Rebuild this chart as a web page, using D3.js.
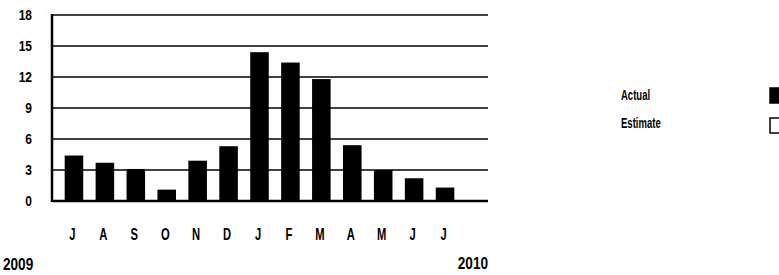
<!DOCTYPE html>
<html>
<meta charset="utf-8">
<head>
  <script src="https://d3js.org/d3.v7.js"></script>
  <style>
    body { margin: 0; background: #fff; }
    text { font-family: "Liberation Sans", Arial, sans-serif; font-weight: bold; fill: #000; }
  </style>
</head>
<body>
  <svg id="graph" width="779" height="275"></svg>
  <script>
    // data
    var months = ["J", "A", "S", "O", "N", "D", "J", "F", "M", "A", "M", "J", "J"]
    var actual = [4.4, 3.7, 3.1, 1.1, 3.9, 5.3, 14.4, 13.4, 11.8, 5.4, 3.0, 2.2, 1.3]
    var yTicks = [0, 3, 6, 9, 12, 15, 18]
    var years = ["2009", "2010"]
    var legendItems = ["Actual", "Estimate"]

    var svg = d3.select("svg#graph")
    var plotLeft = 52, plotRight = 488, plotTop = 15, plotBottom = 201

    var yScale = d3.scaleLinear().domain([0, 18]).range([plotBottom, plotTop])
    var xScale = d3.scaleBand()
        .domain(d3.range(months.length))
        .range([58.5, 460.5])
        .paddingInner(0.4)
        .paddingOuter(0.2)

    // narrow bold text, like the scanned original
    function narrowText(sel, x, y, sx) {
      sel.attr("transform", function(d, i) {
        return `translate(${typeof x == "function" ? x(d, i) : x},${typeof y == "function" ? y(d, i) : y}) scale(${sx},1)`
      })
    }

    // grid lines
    svg.append("g")
      .selectAll("line")
      .data(yTicks.filter(d => d > 0))
      .enter()
      .append("line")
      .attr("x1", plotLeft).attr("x2", plotRight)
      .attr("y1", d => yScale(d)).attr("y2", d => yScale(d))
      .attr("stroke", "#000")
      .attr("stroke-width", 1.6)

    // y axis labels
    var yAxis = d3.axisLeft(yScale).tickValues(yTicks).tickSize(0).tickPadding(20)
    var ya = svg.append("g").attr("transform", `translate(${plotLeft},0)`).call(yAxis)
    ya.select(".domain").remove()
    ya.selectAll("text")
      .attr("font-family", null)
      .style("font-size", "15px")
      .attr("x", -20 / 0.8)
      .attr("transform", "scale(0.8,1)")

    // bars
    svg.append("g")
      .selectAll("rect")
      .data(actual)
      .enter()
      .append("rect")
      .attr("x", (d, i) => xScale(i))
      .attr("width", xScale.bandwidth())
      .attr("y", d => yScale(d))
      .attr("height", d => yScale(0) - yScale(d))
      .attr("fill", "#000")

    // axis frame
    svg.append("line")
      .attr("x1", plotLeft).attr("x2", plotLeft)
      .attr("y1", plotTop - 1).attr("y2", plotBottom + 1)
      .attr("stroke", "#000").attr("stroke-width", 2.5)
    svg.append("line")
      .attr("x1", plotLeft).attr("x2", plotRight)
      .attr("y1", plotBottom).attr("y2", plotBottom)
      .attr("stroke", "#000").attr("stroke-width", 2.5)

    // month labels
    svg.append("g")
      .selectAll("text")
      .data(months)
      .enter()
      .append("text")
      .attr("text-anchor", "middle")
      .style("font-size", "16px")
      .text(d => d)
      .call(narrowText, (d, i) => xScale(i) + xScale.bandwidth() / 2 - 1.5, 240, 0.7)

    // years
    svg.append("text").style("font-size", "16px").text(years[0])
      .call(narrowText, 3, 270, 0.85)
    svg.append("text").attr("text-anchor", "end").style("font-size", "16px").text(years[1])
      .call(narrowText, plotRight, 269, 0.85)

    // legend
    var lg = svg.append("g")
    lg.selectAll("text")
      .data(legendItems)
      .enter()
      .append("text")
      .style("font-size", "14px")
      .text(d => d)
      .call(narrowText, 621, (d, i) => 100 + i * 28, 0.68)
    lg.selectAll("rect")
      .data(legendItems)
      .enter()
      .append("rect")
      .attr("x", 770)
      .attr("y", (d, i) => 88 + i * 30)
      .attr("width", 12)
      .attr("height", 15)
      .attr("fill", (d, i) => i == 0 ? "#000" : "#fff")
      .attr("stroke", "#000")
      .attr("stroke-width", 1.5)
  </script>
</body>
</html>
